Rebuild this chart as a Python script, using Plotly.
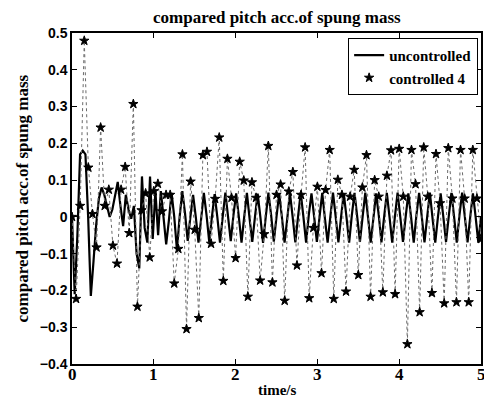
import numpy as np
import plotly.graph_objects as go

# Pitch acceleration of the sprung mass, uncontrolled (sampled every 5/152 s)
uncontrolled = [
    0.0, -0.21, -0.05, 0.17, 0.18, 0.17, 0.0, -0.215, -0.12, -0.02,
    0.05, 0.08, 0.06, 0.03, 0.0, 0.02, 0.06, 0.095, 0.03, -0.025,
    0.06, 0.02, -0.005, 0.03, -0.1, -0.14, 0.11, -0.03, -0.07, 0.11,
    -0.06, 0.07, -0.05, 0.07,
    0.0, -0.075, -0.01, 0.065,
    0.0, -0.09, 0.0, 0.07,
    0.01, -0.065, 0.0, 0.06,
    0.0, -0.07, -0.005, 0.065,
    0.005, -0.068, 0.0, 0.062,
    0.0, -0.07, 0.0, 0.066,
    0.0, -0.066, 0.005, 0.064,
    0.0, -0.07, 0.0, 0.065,
    -0.005, -0.068, 0.0, 0.063,
    0.0, -0.071, 0.0, 0.066,
    0.005, -0.067, 0.0, 0.064,
    0.0, -0.07, -0.005, 0.065,
    0.0, -0.069, 0.0, 0.066,
    0.0, -0.07, 0.005, 0.064,
    0.0, -0.068, 0.0, 0.065,
    -0.005, -0.07, 0.0, 0.066,
    0.0, -0.069, 0.0, 0.064,
    0.0, -0.07, 0.005, 0.065,
    0.0, -0.068, 0.0, 0.066,
    0.0, -0.07, -0.005, 0.064,
    0.005, -0.069, 0.0, 0.065,
    0.0, -0.07, 0.0, 0.066,
    0.0, -0.068, 0.0, 0.064,
    0.0, -0.07, 0.005, 0.065,
    0.0, -0.069, 0.0, 0.066,
    -0.005, -0.07, 0.0, 0.064,
    0.0, -0.068, 0.0, 0.065,
    0.0, -0.07, 0.005, 0.066,
    0.0, -0.069, 0.0, 0.064,
    0.0, -0.07, 0.0,
]
unc_step = 5 / 152

# Pitch acceleration with controller 4 (sampled every 0.05 s)
controlled = [
    0.0, -0.223, 0.03, 0.479, 0.134, 0.008, -0.083, 0.243, 0.03, 0.074,
    -0.078, -0.127, 0.074, 0.136, -0.044, 0.307, -0.244, 0.018, 0.064, -0.11,
    0.07, 0.09, 0.015, 0.06, 0.06, -0.181, -0.087, 0.170, -0.305, 0.096,
    -0.035, -0.275, 0.168, 0.177, -0.073, 0.049, 0.216, -0.174, 0.158, 0.052,
    -0.112, 0.15, 0.099, -0.217, 0.094, 0.052, -0.173, -0.047, 0.193, -0.178,
    0.06, 0.088, -0.228, 0.069, 0.122, -0.132, 0.06, 0.189, -0.221, -0.03,
    0.082, -0.153, 0.073, 0.182, -0.223, 0.101, 0.06, -0.203, 0.055, 0.128,
    -0.158, 0.08, 0.168, -0.217, 0.1, 0.055, -0.205, 0.112, 0.181, -0.21,
    0.185, 0.055, -0.346, 0.182, 0.089, -0.259, 0.189, 0.055, -0.207, 0.171,
    0.037, -0.235, 0.187, 0.05, -0.232, 0.182, 0.05, -0.232, 0.182, 0.05,
    -0.06,
]
ctrl_step = 0.05

x_ticks = [0, 1, 2, 3, 4, 5]
y_ticks = [-0.4, -0.3, -0.2, -0.1, 0, 0.1, 0.2, 0.3, 0.4, 0.5]

t_unc = np.arange(len(uncontrolled)) * unc_step
t_ctrl = np.arange(len(controlled)) * ctrl_step

SERIF = "Liberation Serif"
SANS = "Liberation Sans"
STAR = dict(symbol="star", size=7, color="black", line=dict(color="black", width=1))

fig = go.Figure()
fig.add_trace(go.Scatter(
    x=t_unc, y=uncontrolled, mode="lines", name="uncontrolled",
    line=dict(color="black", width=2.2),
))
fig.add_trace(go.Scatter(
    x=t_ctrl, y=controlled, mode="lines+markers", name="controlled 4",
    line=dict(color="#6a6a6a", width=1, dash="dot"),
    marker=STAR, showlegend=False,
))
# legend key for the controlled series: marker only
fig.add_trace(go.Scatter(
    x=[None], y=[None], mode="markers", name="controlled 4", marker=STAR,
))

axis_common = dict(
    showline=True, linecolor="black", linewidth=1.5, mirror="allticks",
    ticks="inside", ticklen=5, tickcolor="black", tickwidth=1,
    showgrid=False, zeroline=False,
)
x_font = dict(family=SERIF, size=17, color="black", weight="bold")
fig.update_xaxes(range=[0, 5], tickvals=x_ticks, showticklabels=False, **axis_common)
fig.update_yaxes(
    range=[-0.4, 0.5], tickvals=y_ticks,
    ticktext=[("\u2212" if v < 0 else "") + (f"{abs(v):.1f}" if v != 0 else "0") for v in y_ticks],
    tickfont=dict(family=SANS, size=14, color="black", weight="bold"),
    **axis_common,
)

# x tick labels placed just under the axis line
x_labels = [
    dict(text=str(v), xref="x", yref="paper", x=v, y=0, yshift=-10,
         showarrow=False, xanchor="center", yanchor="middle", font=x_font)
    for v in x_ticks
]

fig.update_layout(
    width=484, height=399,
    margin=dict(l=72, r=1, t=33, b=35),
    paper_bgcolor="white", plot_bgcolor="white",
    showlegend=True,
    legend=dict(
        x=0.993, y=0.985, xanchor="right", yanchor="top",
        bgcolor="white", bordercolor="black", borderwidth=1,
        font=dict(family=SERIF, size=15, color="black", weight="bold"),
        tracegroupgap=0, itemwidth=30,
    ),
    annotations=[
        dict(text="compared pitch acc.of spung mass", xref="paper", yref="paper",
             x=0.5, y=1, yshift=16, showarrow=False, yanchor="middle",
             font=dict(family=SERIF, size=17, color="black", weight="bold")),
        dict(text="time/s", xref="paper", yref="paper", x=0.5, y=0, yshift=-26,
             showarrow=False, yanchor="middle",
             font=dict(family=SERIF, size=15, color="black", weight="bold")),
        dict(text="compared pitch acc.of spung mass", xref="paper", yref="paper",
             x=0, xshift=-50, y=0.5, showarrow=False, textangle=-90,
             xanchor="center", yanchor="middle",
             font=dict(family=SERIF, size=17, color="black", weight="bold")),
    ] + x_labels,
)

fig.write_html("out.html")
